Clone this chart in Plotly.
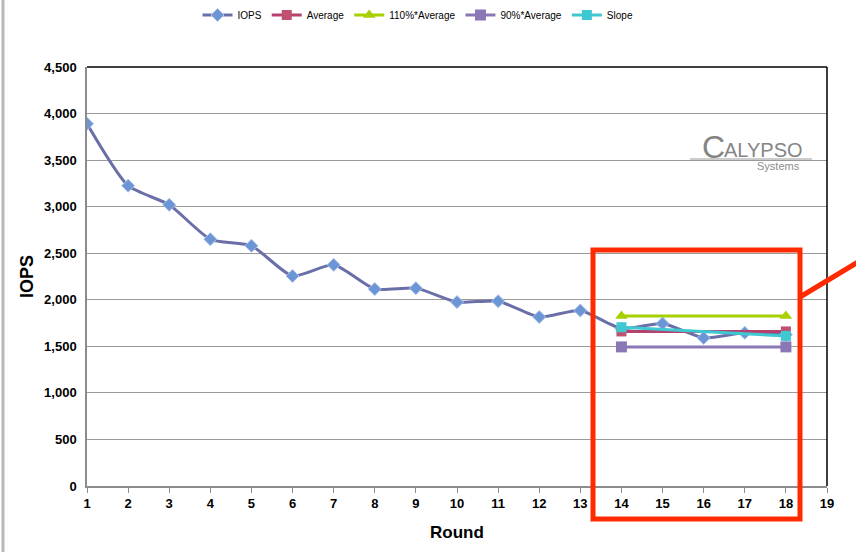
import plotly.graph_objects as go

rounds = list(range(1, 19))
iops = [3890, 3225, 3020, 2650, 2580, 2255, 2375, 2115, 2125, 1975, 1985, 1815, 1885, 1690, 1745, 1590, 1645, 1625]
win_x = [14, 18]
average = [1660, 1660]
avg110 = [1826, 1826]
avg90 = [1494, 1494]
slope = [1705, 1612]
y_ticks = [0, 500, 1000, 1500, 2000, 2500, 3000, 3500, 4000, 4500]
y_tick_text = ["0", "500", "1,000", "1,500", "2,000", "2,500", "3,000", "3,500", "4,000", "4,500"]

L, R, T, B = 87, 827, 67, 486
W, H = 856, 552
def px(x):
    return (x - L) / (R - L)
def py(y):
    return (B - y) / (B - T)

fig = go.Figure()
fig.add_trace(go.Scatter(x=rounds, y=iops, name="IOPS", mode="lines+markers",
                         line=dict(color="#6a6fa8", width=3, shape="spline", smoothing=0.6),
                         marker=dict(symbol="diamond", size=10, color="#6b95d4",
                                     line=dict(color="#a9c3ea", width=1))))
fig.add_trace(go.Scatter(x=win_x, y=average, name="Average", mode="lines+markers",
                         line=dict(color="#b5426e", width=3),
                         marker=dict(symbol="square", size=10, color="#c0506f")))
fig.add_trace(go.Scatter(x=win_x, y=avg110, name="110%*Average", mode="lines+markers",
                         line=dict(color="#a8d000", width=3),
                         marker=dict(symbol="triangle-up", size=11, color="#a8d000")))
fig.add_trace(go.Scatter(x=win_x, y=avg90, name="90%*Average", mode="lines+markers",
                         line=dict(color="#8a78b6", width=3),
                         marker=dict(symbol="square", size=11, color="#8a78b6")))
fig.add_trace(go.Scatter(x=win_x, y=slope, name="Slope", mode="lines+markers",
                         line=dict(color="#3ec8d2", width=3),
                         marker=dict(symbol="square", size=10, color="#3ec8d2")))

shapes = [
    dict(type="line", xref="paper", yref="paper", x0=0, x1=1, y0=1, y1=1,
         line=dict(color="black", width=1.5)),
    dict(type="line", xref="paper", yref="paper", x0=1, x1=1, y0=0, y1=1,
         line=dict(color="black", width=1.5)),
    # slide edge on the left
    dict(type="line", xref="paper", yref="paper", x0=px(3), x1=px(3), y0=py(552), y1=py(0),
         line=dict(color="#b8b8b8", width=3)),
    # logo underline
    dict(type="line", xref="paper", yref="paper", x0=px(690), x1=px(812), y0=py(159), y1=py(159),
         line=dict(color="#9a9a9a", width=1)),
    # red callout box
    dict(type="rect", xref="paper", yref="paper", x0=px(593), x1=px(800), y0=py(519), y1=py(250),
         line=dict(color="#ff2a00", width=5)),
    dict(type="line", xref="paper", yref="paper", x0=px(800), x1=px(858), y0=py(297), y1=py(262),
         line=dict(color="#ff2a00", width=5)),
]

annotations = [
    dict(text="C", xref="paper", yref="paper", x=px(700), y=py(147), showarrow=False,
         xanchor="left", yanchor="middle", font=dict(family="Arial", size=32, color="#858585")),
    dict(text="ALYPSO", xref="paper", yref="paper", x=px(722), y=py(150), showarrow=False,
         xanchor="left", yanchor="middle", font=dict(family="Arial", size=20, color="#858585")),
    dict(text="Systems", xref="paper", yref="paper", x=px(802), y=py(166), showarrow=False,
         xanchor="right", yanchor="middle", font=dict(family="Arial", size=11, color="#8c8c8c")),
]

fig.update_layout(
    width=W, height=H,
    margin=dict(l=L, r=W - R, t=T, b=H - B, autoexpand=False),
    paper_bgcolor="white", plot_bgcolor="white",
    font=dict(family="Arial", color="black"),
    showlegend=True,
    legend=dict(orientation="h", x=px(418), xanchor="center", y=py(15), yanchor="middle",
                font=dict(family="Liberation Sans Narrow, Arial Narrow, Arial", size=10),
                itemwidth=30, tracegroupgap=0),
    xaxis=dict(range=[1, 19], tickmode="linear", tick0=1, dtick=1,
               showgrid=False, showline=True, linecolor="#8c8c8c", linewidth=1.5,
               ticks="outside", ticklen=5, tickcolor="#8c8c8c",
               tickfont=dict(family="Arial", size=13, weight="bold"),
               title=dict(text="Round", font=dict(family="Arial", size=17, weight="bold"), standoff=16),
               zeroline=False, automargin=False),
    yaxis=dict(range=[0, 4500], tickvals=y_ticks, ticktext=y_tick_text,
               showgrid=True, gridcolor="#9a9a9a", gridwidth=1,
               showline=True, linecolor="#8c8c8c", linewidth=1.5,
               ticks="", ticklabelstandoff=6, tickfont=dict(family="Arial", size=13, weight="bold"),
               title=dict(text="IOPS", font=dict(family="Arial", size=18, weight="bold"), standoff=6),
               zeroline=False, automargin=False),
    shapes=shapes, annotations=annotations,
)

fig.write_html("out.html", config={"displayModeBar": False},
               post_script="document.body.style.margin='0';")
